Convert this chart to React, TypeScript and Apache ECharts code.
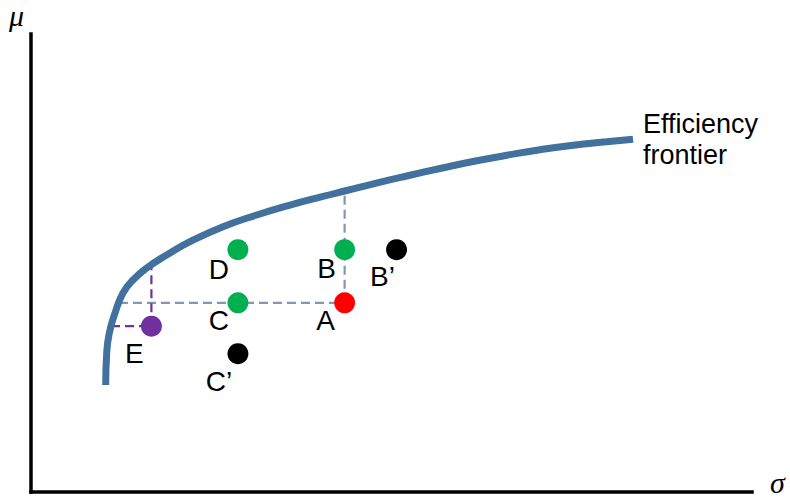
import React, { useEffect, useRef } from "react";
import * as echarts from "echarts";

// Efficiency frontier (sigma, mu)
const frontierSigma = [1.036, 1.05, 1.086, 1.165, 1.276, 1.415, 1.605, 1.882, 2.205, 2.663, 3.13, 3.592, 4.05, 4.379, 4.748, 5.211, 5.673, 6.13, 6.598, 7.06, 7.521, 7.985, 8.35];
const frontierMu = [2.336, 3.035, 3.472, 3.908, 4.345, 4.629, 4.891, 5.175, 5.465, 5.793, 6.048, 6.266, 6.454, 6.583, 6.729, 6.9, 7.063, 7.216, 7.352, 7.474, 7.572, 7.646, 7.701];

// Portfolios
const pointNames = ["A", "B", "B\u2019", "C", "C\u2019", "D", "E"];
const pointSigma = [4.35, 4.35, 5.07, 2.87, 2.87, 2.87, 1.67];
const pointMu = [4.13, 5.29, 5.29, 4.13, 3.02, 5.29, 3.62];

// Guide (dashed) segments: [sigma1, mu1, sigma2, mu2]
const guideBlueH = [1.22, 4.13, 4.35, 4.13];
const guideBlueV = [4.35, 4.13, 4.35, 6.57];
const guidePurpleH = [1.11, 3.62, 1.67, 3.62];
const guidePurpleV = [1.67, 3.62, 1.67, 4.96];

const axisMin = 0;
const axisMax = 10;

const pointColors: Record<string, string> = {
  A: "#FF0000",
  B: "#00B050",
  "B\u2019": "#000000",
  C: "#00B050",
  "C\u2019": "#000000",
  D: "#00B050",
  E: "#7030A0",
};
const labelOffsets: Record<string, number[]> = {
  A: [-19, 18],
  B: [-18, 19],
  "B\u2019": [-14, 27],
  C: [-19, 18],
  "C\u2019": [-19, 28],
  D: [-19, 20],
  E: [-17, 27],
};

function guideSeries(seg: number[], color: string) {
  return {
    type: "line",
    data: [
      [seg[0], seg[1]],
      [seg[2], seg[3]],
    ],
    symbol: "none",
    silent: true,
    z: 2,
    lineStyle: { color, width: 2.2, type: [9, 5] },
  };
}

export default function App() {
  const ref = useRef<HTMLDivElement>(null);
  useEffect(() => {
    if (!ref.current) return;
    const chart = echarts.init(ref.current, undefined, { renderer: "svg" });
    const axisCommon = {
      type: "value",
      min: axisMin,
      max: axisMax,
      axisLine: { show: true, lineStyle: { color: "#000", width: 3.5, cap: "square" } },
      axisTick: { show: false },
      axisLabel: { show: false },
      splitLine: { show: false },
    };
    chart.setOption({
      animation: false,
      backgroundColor: "#fff",
      grid: { left: 31, top: 34, right: 38, bottom: 7, containLabel: false },
      xAxis: { ...axisCommon },
      yAxis: { ...axisCommon },
      graphic: [
        {
          type: "text",
          left: 9,
          top: 0,
          style: { text: "\u03bc", fontSize: 30, fontStyle: "italic", fontFamily: "Liberation Serif", fill: "#000" },
        },
        {
          type: "text",
          left: 770,
          top: 467,
          style: { text: "\u03c3", fontSize: 30, fontStyle: "italic", fontFamily: "Liberation Serif", fill: "#000" },
        },
      ],
      series: [
        guideSeries(guideBlueH, "#8497B0"),
        guideSeries(guideBlueV, "#8497B0"),
        guideSeries(guidePurpleH, "#7030A0"),
        guideSeries(guidePurpleV, "#7030A0"),
        {
          type: "line",
          data: frontierSigma.map((s, i) => [s, frontierMu[i]]),
          smooth: 0.5,
          symbol: "none",
          z: 3,
          lineStyle: { color: "#41719C", width: 7, cap: "butt" },
          endLabel: {
            show: true,
            formatter: "Efficiency\nfrontier",
            fontSize: 27,
            lineHeight: 31,
            fontFamily: "Liberation Sans",
            color: "#000",
            distance: 10,
            align: "left",
            verticalAlign: "middle",
          },
        },
        {
          type: "scatter",
          z: 4,
          symbolSize: 21,
          itemStyle: { opacity: 1 },
          emphasis: { disabled: true },
          data: pointNames.map((n, i) => ({
            name: n,
            value: [pointSigma[i], pointMu[i]],
            itemStyle: { color: pointColors[n], opacity: 1 },
            label: { offset: labelOffsets[n] },
          })),
          label: {
            show: true,
            position: "inside",
            formatter: "{b}",
            fontSize: 28,
            fontFamily: "Liberation Sans",
            color: "#000",
          },
        },
      ],
    });
    return () => chart.dispose();
  }, []);
  return <div ref={ref} style={{ position: "absolute", left: 0, top: 0, width: 790, height: 499 }} />;
}
